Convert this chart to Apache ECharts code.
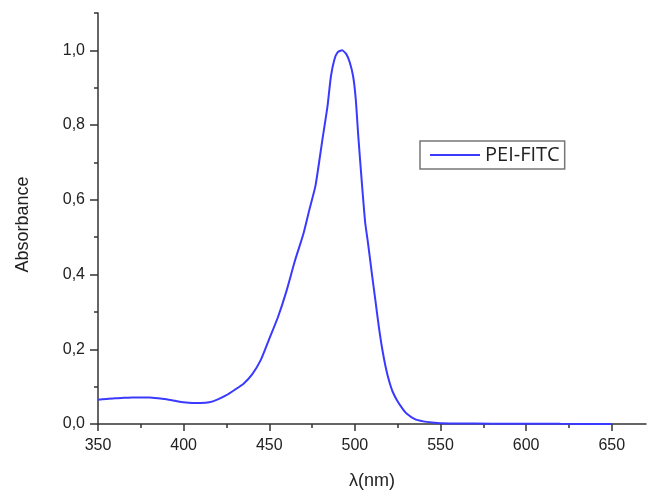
<!DOCTYPE html>
<html>
<head>
<meta charset="utf-8">
<script src="https://cdn.jsdelivr.net/npm/echarts@6/dist/echarts.min.js"></script>
<style>
html,body{margin:0;padding:0;background:#fff;}
#chart{width:649px;height:495px;}
</style>
</head>
<body>
<div id="chart"></div>
<script>
var wavelength = [350,355,360,365,370,375,380,385,390,395,400,405,410,415,420,425,430,435,440,445,450,455,460,465,470,473.5,477,481,484,486,488,490,492.5,495,497,499,500.5,502,504,506,507.5,510,512,514,516,518,520,522,525,528,530,535,540,545,550,560,580,600,620,650];
var absorbance = [0.065,0.067,0.069,0.070,0.071,0.071,0.071,0.069,0.066,0.062,0.058,0.056,0.056,0.058,0.066,0.077,0.092,0.108,0.133,0.171,0.228,0.285,0.355,0.437,0.51,0.575,0.638,0.76,0.85,0.93,0.975,0.995,1.0,0.99,0.968,0.93,0.87,0.77,0.65,0.54,0.49,0.40,0.33,0.26,0.20,0.152,0.115,0.087,0.060,0.040,0.029,0.013,0.007,0.004,0.002,0.0015,0.001,0.001,0.0005,0.0];
var xMajorTicks = [350,400,450,500,550,600,650];
var xMinorTicks = [375,425,475,525,575,625];
var yMajorTicks = [0,0.2,0.4,0.6,0.8,1.0];
var yMinorTicks = [0.1,0.3,0.5,0.7,0.9,1.1];
var seriesName = 'PEI-FITC';

var data = wavelength.map(function(w,i){return [w, absorbance[i]];});
var axisColor = '#333';
var txt = '#222';
var chart = echarts.init(document.getElementById('chart'), null, {renderer:'canvas'});
chart.setOption({
  backgroundColor:'#fff',
  animation:false,
  grid:{left:98,right:3,top:13,bottom:69,containLabel:false},
  legend:{
    left:420, top:141,
    orient:'horizontal',
    icon:'rect',
    itemWidth:50, itemHeight:2, itemGap:5,
    padding:[4,5,4,10],
    borderColor:'#777', borderWidth:1.5, borderRadius:0,
    textStyle:{fontFamily:'Open Sans', fontSize:20, lineHeight:20, color:txt},
    data:[seriesName]
  },
  xAxis:[{
    type:'value', min:350, max:670, interval:50,
    name:'λ(nm)', nameLocation:'middle', nameGap:48,
    nameTextStyle:{fontFamily:'Liberation Sans', fontSize:18, color:txt},
    axisLine:{show:true, lineStyle:{color:axisColor, width:1.5}},
    axisTick:{show:true, inside:false, length:7, customValues:xMajorTicks, lineStyle:{color:axisColor, width:1.5}},
    axisLabel:{show:true, margin:14, customValues:xMajorTicks, fontFamily:'Liberation Sans', fontSize:16, color:txt},
    splitLine:{show:false}
  },{
    type:'value', min:350, max:670, position:'bottom',
    axisLine:{show:false},
    axisTick:{show:true, inside:false, length:4, customValues:xMinorTicks, lineStyle:{color:axisColor, width:1.5}},
    axisLabel:{show:false},
    splitLine:{show:false}
  }],
  yAxis:[{
    type:'value', min:0, max:1.1, interval:0.1,
    name:'Absorbance', nameLocation:'middle', nameGap:66, nameRotate:90,
    nameTextStyle:{fontFamily:'Liberation Sans', fontSize:18, color:txt, padding:[0,12,0,0]},
    axisLine:{show:true, lineStyle:{color:axisColor, width:1.5}},
    axisTick:{show:true, inside:false, length:8, customValues:yMajorTicks, lineStyle:{color:axisColor, width:1.5}},
    axisLabel:{show:true, margin:13, customValues:yMajorTicks, fontFamily:'Liberation Sans', fontSize:16, color:txt,
      formatter:function(v){return v.toFixed(1).replace('.',',');}},
    splitLine:{show:false}
  },{
    type:'value', min:0, max:1.1, position:'left',
    axisLine:{show:false},
    axisTick:{show:true, inside:false, length:4, customValues:yMinorTicks, lineStyle:{color:axisColor, width:1.5}},
    axisLabel:{show:false},
    splitLine:{show:false}
  }],
  series:[{
    name:seriesName, type:'line', data:data,
    xAxisIndex:0, yAxisIndex:0,
    symbol:'none', smooth:0.2,
    lineStyle:{color:'#3a3aff', width:2},
    itemStyle:{color:'#3a3aff'}
  }]
});
</script>
</body>
</html>
